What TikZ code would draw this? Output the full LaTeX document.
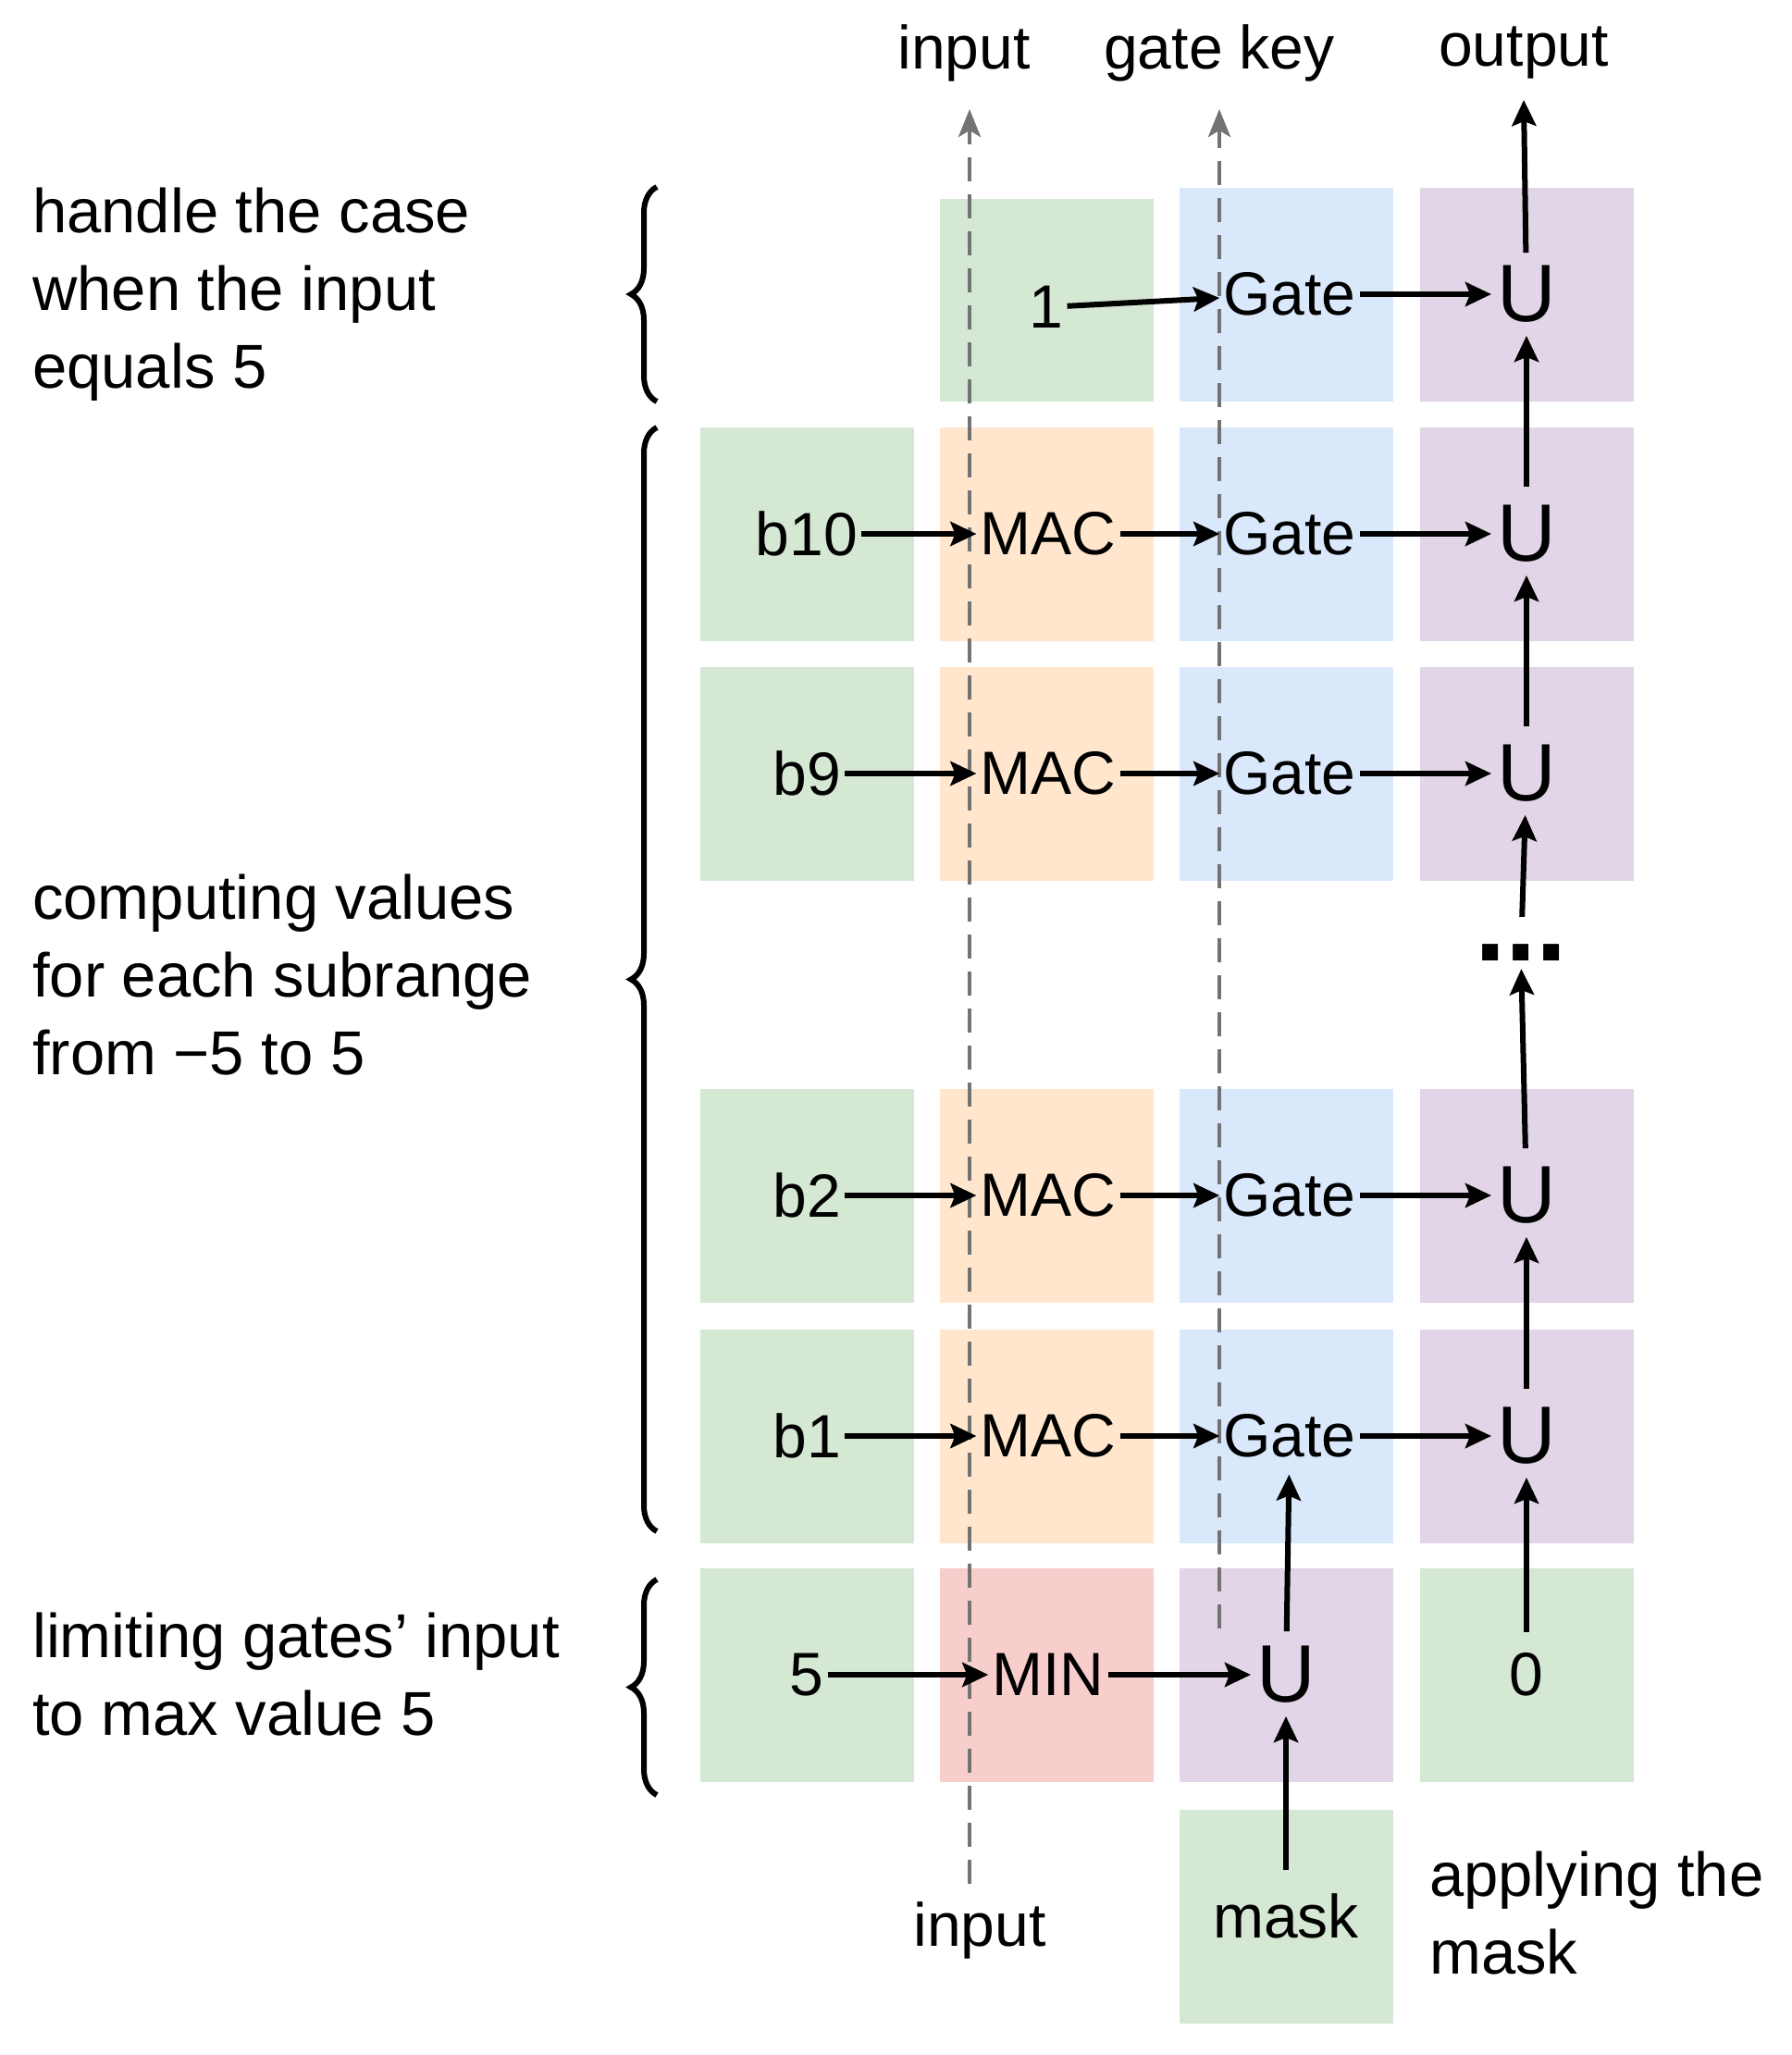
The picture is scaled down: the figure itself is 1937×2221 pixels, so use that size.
\documentclass[tikz,border=0pt]{standalone}
\usepackage{fontspec}
\setmainfont{Liberation Sans}
\usetikzlibrary{arrows.meta,decorations.pathreplacing}
\definecolor{cg}{HTML}{D5E8D4}
\definecolor{co}{HTML}{FFE6CC}
\definecolor{cb}{HTML}{DAE8FC}
\definecolor{cp}{HTML}{E1D5E7}
\definecolor{cr}{HTML}{F8CECC}
\begin{document}
\begin{tikzpicture}[x=1pt,y=-1pt,
  box/.style={fill=#1,draw=none,minimum width=231pt,minimum height=231pt,inner sep=0pt},
  t/.style={font=\fontsize{66}{66}\selectfont,inner sep=4pt},
  u/.style={font=\fontsize{88}{88}\selectfont,inner sep=6pt},
  lab/.style={font=\fontsize{67}{84}\selectfont,align=left,anchor=west,inner sep=0pt},
  arr/.style={line width=6pt,-{Stealth[length=28pt,width=26pt,inset=5pt]}},
  dsh/.style={line width=4.5pt,gray!90!black,dash pattern=on 26pt off 14pt,-{Stealth[length=30pt,width=24pt,inset=7pt]}},
  br/.style={line width=6pt,decorate,decoration={brace,amplitude=28pt,mirror}}]
\useasboundingbox (0,0) rectangle (1937,2221);
% boxes
\node[box=cg,minimum height=219pt] (g1) at (1131,324) {};
\node[box=cb] (bxt) at (1390,318) {};
\node[box=cp] (pxt) at (1650,318) {};
\foreach \r/\y in {10/577,9/836,2/1292,1/1552}{
  \node[box=cg] (ga\r) at (872,\y) {};
  \node[box=co] (oa\r) at (1131,\y) {};
  \node[box=cb] (ba\r) at (1390,\y) {};
  \node[box=cp] (pa\r) at (1650,\y) {};
}
\node[box=cg] (g5) at (872,1810) {};
\node[box=cr] (rmin) at (1131,1810) {};
\node[box=cp] (pmin) at (1390,1810) {};
\node[box=cg] (g0) at (1650,1810) {};
\node[box=cg] (gmask) at (1390,2071) {};
% dashed lines
\coordinate (din0) at (1048,2036);
\coordinate (din1) at (1048,118);
\coordinate (dk0) at (1318,1760);
\coordinate (dk1) at (1318,118);
\draw[dsh] (din0) -- (din1);
\draw[dsh] (dk0) -- (dk1);
% texts
\node[t] (one) at (1131,332) {1};
\node[t] (gtt) at (1394,318) {Gate};
\node[u] (ut) at (1650,318) {U};
\node[t] (b10) at (872,577) {b10};
\node[t] (b9) at (872,836) {b9};
\node[t] (b2) at (872,1292) {b2};
\node[t] (b1) at (872,1552) {b1};
\foreach \r/\y in {10/577,9/836,2/1292,1/1552}{
  \node[t] (mac\r) at (1133,\y) {MAC};
  \node[t] (gt\r) at (1394,\y) {Gate};
  \node[u] (u\r) at (1650,\y) {U};
}
\node[t] (five) at (872,1810) {5};
\node[t] (min) at (1133,1810) {MIN};
\node[u] (umin) at (1390,1810) {U};
\node[t] (zero) at (1650,1810) {0};
\node[t] (mask) at (1390,2071) {mask};
\node[font=\fontsize{120}{120}\selectfont\bfseries,inner sep=0pt] (dots) at (1644,1030) {...};
\coordinate (out) at (1647,108);
% horizontal arrows
\draw[arr] (one) -- (gtt);
\draw[arr] (gtt) -- (ut);
\foreach \r in {10,9,2,1}{
  \draw[arr] (b\r) -- (mac\r);
  \draw[arr] (mac\r) -- (gt\r);
  \draw[arr] (gt\r) -- (u\r);
}
\draw[arr] (five) -- (min);
\draw[arr] (min) -- (umin);
% vertical arrows
\draw[arr,shorten <=8pt] (ut) -- (out);
\draw[arr,shorten <=14pt,shorten >=8pt] (u10) -- (ut);
\draw[arr,shorten <=14pt,shorten >=8pt] (u9) -- (u10);
\draw[arr,shorten <=30pt,shorten >=8pt] (dots) -- (u9);
\draw[arr,shorten <=14pt,shorten >=8pt] (u2) -- (dots);
\draw[arr,shorten <=14pt,shorten >=8pt] (u1) -- (u2);
\draw[arr,shorten <=18pt,shorten >=8pt] (zero) -- (u1);
\draw[arr,shorten <=10pt,shorten >=14pt] (umin) -- (gt1);
\draw[arr,shorten <=22pt,shorten >=8pt] (mask) -- (umin);
% top/bottom labels
\node[t] (lin) at (1042,57) {input};
\node[t] (lkey) at (1318,57) {gate key};
\node[t] (lout) at (1647,57) {output};
\node[t] (lin2) at (1059,2086) {input};
\node[lab] (lapp) at (1545,2068) {applying the\\mask};
% left labels and braces
\node[lab] (l1) at (35,318) {handle the case\\when the input\\equals 5};
\node[lab] (l2) at (35,1054) {computing values\\for each subrange\\from −5 to 5};
\node[lab] (l3) at (35,1810) {limiting gates' input\\to max value 5};
\coordinate (b1t) at (710,202); \coordinate (b1b) at (710,434);
\coordinate (b2t) at (710,462); \coordinate (b2b) at (710,1655);
\coordinate (b3t) at (710,1707); \coordinate (b3b) at (710,1940);
\draw[br] (b1t) -- (b1b);
\draw[br] (b2t) -- (b2b);
\draw[br] (b3t) -- (b3b);
\end{tikzpicture}
\end{document}
